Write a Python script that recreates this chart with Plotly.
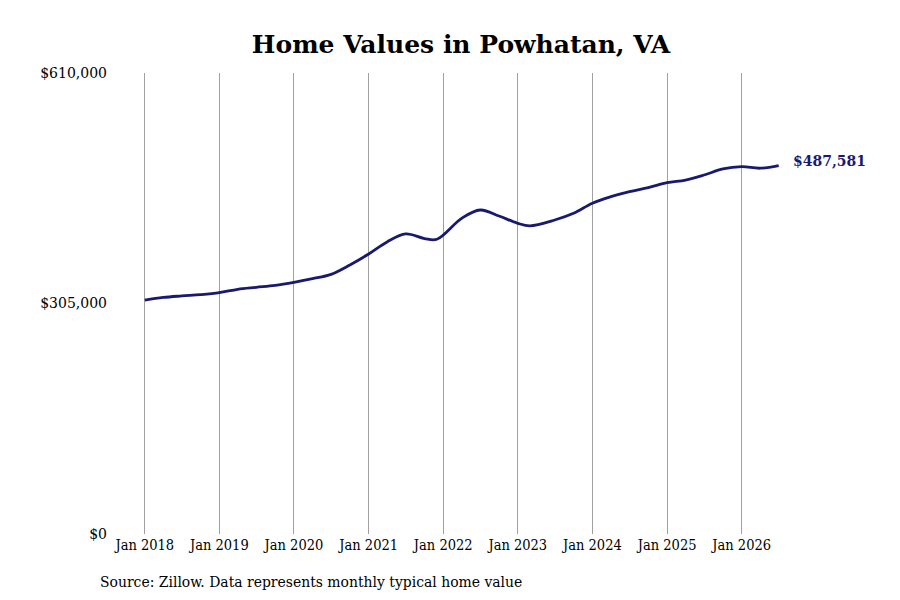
import plotly.graph_objects as go

# quarterly typical home values (plus a few turning points)
dates = ['2018-01-01', '2018-04-01', '2018-07-01', '2018-10-01',
         '2019-01-01', '2019-04-01', '2019-07-01', '2019-10-01',
         '2020-01-01', '2020-04-01', '2020-07-01', '2020-10-01',
         '2021-01-01', '2021-04-01', '2021-07-01', '2021-10-01', '2021-12-01',
         '2022-04-01', '2022-07-01', '2022-10-01',
         '2023-01-01', '2023-03-01', '2023-07-01', '2023-10-01',
         '2024-01-01', '2024-04-01', '2024-07-01', '2024-10-01',
         '2025-01-01', '2025-04-01', '2025-07-01', '2025-10-01',
         '2026-01-01', '2026-04-01', '2026-07-01']
values = [309500, 313000, 315000, 316700,
          319300, 323800, 326400, 329000,
          333000, 337800, 343600, 356000,
          370500, 386500, 397000, 391000, 390000,
          417700, 428700, 420800,
          411100, 407800, 415500, 424300,
          437600, 446300, 453000, 458300,
          464900, 468400, 475000, 483000,
          486000, 484000, 487581]

ytick_vals = [0, 305000, 610000]
ytick_text = ['$0', '$305,000', '$610,000']
xtick_vals = ['%d-01-01' % y for y in range(2018, 2027)]
xtick_text = ['Jan %d' % y for y in range(2018, 2027)]

navy = '#191970'

fig = go.Figure()
fig.add_trace(go.Scatter(x=dates, y=values, mode='lines',
                         line=dict(color=navy, width=2.8, shape='spline', smoothing=1.0),
                         hoverinfo='skip'))

# label for the latest value
fig.add_annotation(x=dates[-1], y=values[-1], text='<b>$%s</b>' % format(values[-1], ','),
                   showarrow=False, xanchor='left', xshift=12, yshift=5,
                   font=dict(family='DejaVu Serif', size=14, color=navy))

# source note sits below the x axis, left of the plot area
fig.add_annotation(x=-28 / 659, y=-48 / 461, xref='paper', yref='paper',
                   xanchor='left', yanchor='middle', showarrow=False,
                   text='Source: Zillow. Data represents monthly typical home value',
                   font=dict(family='DejaVu Serif Condensed', size=15.5, color='black'))

# the page body adds an 8px offset, so margins are shifted to compensate
fig.update_layout(
    width=900, height=600,
    paper_bgcolor='white', plot_bgcolor='white',
    margin=dict(l=118, r=123, t=65, b=74),
    showlegend=False,
    title=dict(text='<b>Home Values in Powhatan, VA</b>', x=453 / 900, xanchor='center',
               y=1 - 36 / 600, yanchor='middle',
               font=dict(family='DejaVu Serif', size=25, color='black')),
)
fig.update_xaxes(range=['2017-10-01', '2026-08-01'], tickvals=xtick_vals, ticktext=xtick_text,
                 showgrid=True, gridcolor='#a0a0a0', gridwidth=1, zeroline=False,
                 showline=False, ticks='',
                 tickfont=dict(family='DejaVu Serif Condensed', size=14.5, color='black'))
fig.update_yaxes(range=[0, 610000], tickvals=ytick_vals, ticktext=ytick_text,
                 showgrid=False, zeroline=False, showline=False, ticks='',
                 ticklabelstandoff=18,
                 tickfont=dict(family='DejaVu Serif', size=14, color='black'))

fig.write_html('out.html')
